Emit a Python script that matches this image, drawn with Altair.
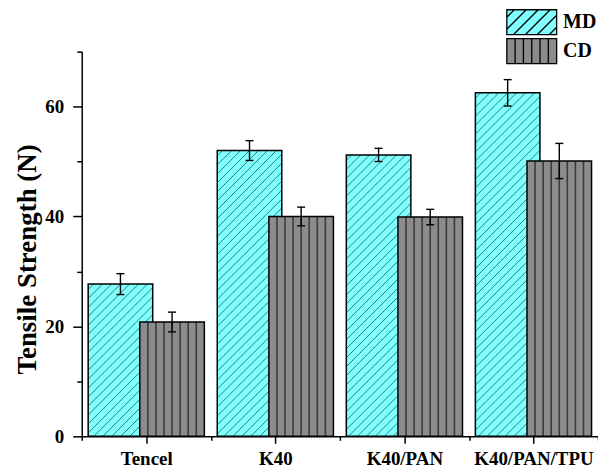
import json
import altair as alt
import pandas as pd

# Tensile strength (N) in machine direction (MD) and cross direction (CD)
categories = ["Tencel", "K40", "K40/PAN", "K40/PAN/TPU"]
series_names = ["MD", "CD"]
md_strength = [27.7, 52.0, 51.2, 62.5]
md_error = [1.9, 1.8, 1.2, 2.4]
cd_strength = [20.8, 40.0, 39.9, 50.1]
cd_error = [1.8, 1.7, 1.4, 3.2]

# plot-area size and pixel scale factors used for the hatch patterns
W, H = 518, 386
Y_MAX = 70
SX = W / 4.0
SY = H / Y_MAX
HATCH = 9.0  # horizontal spacing of diagonal hatch lines, px
N_VLINES = 8  # vertical stripes per CD bar

CYAN = "#80FFFF"
TEAL = "#2E7F7F"
GRAY = "#8C8C8C"
DARK = "#3C3C3C"
FONT = "Liberation Serif"

rows = []
for i, cat in enumerate(categories):
    rows.append(dict(category=cat, idx=i + 1, series="MD", value=md_strength[i], err=md_error[i]))
    rows.append(dict(category=cat, idx=i + 1, series="CD", value=cd_strength[i], err=cd_error[i]))
df = pd.DataFrame(rows)


# legend swatch paths: a 2:1 box (x in [-2, 2], y in [-1, 1]) with its hatching
def md_symbol():
    parts = ["M-2,-1H2V1H-2Z"]
    for c in [-2.4, -1.44, -0.48, 0.48, 1.44, 2.4]:
        xa, xb = max(-2.0, c - 1.0), min(2.0, c + 1.0)
        parts.append(f"M{xa:.3f},{c - xa:.3f}L{xb:.3f},{c - xb:.3f}")
    return "".join(parts)


def cd_symbol():
    parts = ["M-2,-1H2V1H-2Z"]
    for k in range(1, 6):
        x = -2 + k * 4 / 6.0
        parts.append(f"M{x:.3f},-1V1")
    return "".join(parts)


x_scale = alt.Scale(domain=[0.5, 4.5], nice=False, zero=False)
y_scale = alt.Scale(domain=[0, Y_MAX], nice=False)
fill_scale = alt.Scale(domain=series_names, range=[CYAN, GRAY])
shape_scale = alt.Scale(domain=series_names, range=[md_symbol(), cd_symbol()])
stroke_scale = alt.Scale(domain=series_names, range=["black", "black"])

cat_lookup = json.dumps(categories)
x_axis = alt.Axis(
    values=[0.5, 1, 1.5, 2, 2.5, 3, 3.5, 4, 4.5],
    labelExpr=f"datum.value % 1 === 0 ? {cat_lookup}[datum.value - 1] : ''",
    tickSize={"condition": {"test": "datum.value % 1 === 0", "value": 7}, "value": 4},
    labelPadding=6,
    labelFontSize=19,
    title=None,
    grid=False,
)
y_axis = alt.Axis(
    values=[0, 10, 20, 30, 40, 50, 60, 70],
    labelExpr="datum.value % 20 === 0 ? datum.label : ''",
    tickSize={"condition": {"test": "datum.value % 20 === 0", "value": 9}, "value": 5},
    labelPadding=9,
    labelFontSize=19,
    title="Tensile Strength (N)",
    titleFontSize=27,
    titleX=-54,
    titleY=208,
    titleBaseline="middle",
    grid=False,
)

base = alt.Chart(df).transform_calculate(
    xc="datum.idx + (datum.series === 'MD' ? -0.2 : 0.2)",
    x0="datum.xc - 0.25",
    x1="datum.xc + 0.25",
    lo="datum.value - datum.err",
    hi="datum.value + datum.err",
    z="0",
)
md = base.transform_filter("datum.series === 'MD'")
cd = base.transform_filter("datum.series === 'CD'")


def X(field):
    return alt.X(field, scale=x_scale, axis=x_axis)


def Y(field):
    return alt.Y(field, scale=y_scale, axis=y_axis)


legend = alt.Legend(
    title=None,
    orient="none",
    legendX=438,
    legendY=-43,
    symbolSize=625,
    symbolStrokeColor="black",
    symbolStrokeWidth=1.3,
    symbolOpacity=1,
    labelFont=FONT,
    labelFontWeight="bold",
    labelFontSize=20,
    labelColor="black",
    labelOffset=18,
    rowPadding=-4,
    padding=0,
)

# invisible points carry the legend (fill + hatched swatch shapes)
legend_layer = base.mark_point(
    filled=False, size=0, strokeWidth=1.3, opacity=1
).encode(
    x=X("xc:Q"),
    y=Y("value:Q"),
    fill=alt.Fill("series:N", scale=fill_scale, legend=legend),
    shape=alt.Shape("series:N", scale=shape_scale, legend=legend),
    stroke=alt.Stroke("series:N", scale=stroke_scale, legend=legend),
)


def bar_fill(src):
    return src.mark_bar(strokeWidth=0).encode(
        x=X("x0:Q"),
        x2="x1:Q",
        y=Y("value:Q"),
        y2="z:Q",
        fill=alt.Fill("series:N", scale=fill_scale, legend=None),
    )


def bar_outline(src):
    return src.mark_bar(fillOpacity=0, stroke="black", strokeWidth=1.5).encode(
        x=X("x0:Q"),
        x2="x1:Q",
        y=Y("value:Q"),
        y2="z:Q",
    )


# diagonal hatch inside MD bars, clipped to each bar rectangle
md_hatch = (
    md.transform_calculate(k="sequence(0, 70)")
    .transform_flatten(["k"])
    .transform_calculate(
        pw=f"0.5 * {SX}",
        ph=f"datum.value * {SY}",
        c=f"-datum.ph + (datum.k + 0.6) * {HATCH}",
        xa="max(0, datum.c)",
        xb="min(datum.pw, datum.ph + datum.c)",
    )
    .transform_filter("datum.xa < datum.xb")
    .transform_calculate(
        hx0=f"datum.x0 + datum.xa / {SX}",
        hx1=f"datum.x0 + datum.xb / {SX}",
        hy0=f"(datum.xa - datum.c) / {SY}",
        hy1=f"(datum.xb - datum.c) / {SY}",
    )
    .mark_rule(color=TEAL, strokeWidth=1)
    .encode(x=X("hx0:Q"), x2="hx1:Q", y=Y("hy0:Q"), y2="hy1:Q")
)

# vertical stripes inside CD bars
cd_lines = (
    cd.transform_calculate(k=f"sequence(1, {N_VLINES})")
    .transform_flatten(["k"])
    .transform_calculate(lx=f"datum.x0 + datum.k * 0.5 / {N_VLINES}")
    .mark_rule(color=DARK, strokeWidth=1.6)
    .encode(x=X("lx:Q"), y=Y("z:Q"), y2="value:Q")
)

err_rule = base.mark_rule(color="black", strokeWidth=1.4).encode(
    x=X("xc:Q"), y=Y("lo:Q"), y2="hi:Q"
)
err_caps = (
    base.transform_fold(["lo", "hi"], as_=["end", "ey"])
    .mark_tick(orient="horizontal", size=8, thickness=1.4, color="black", opacity=1)
    .encode(x=X("xc:Q"), y=Y("ey:Q"))
)

chart = (
    alt.layer(
        legend_layer,
        bar_fill(md),
        md_hatch,
        bar_outline(md),
        bar_fill(cd),
        cd_lines,
        bar_outline(cd),
        err_rule,
        err_caps,
    )
    .properties(
        width=W,
        height=H,
        autosize=alt.AutoSizeParams(type="none"),
        padding={"left": 82, "top": 51, "right": 0, "bottom": 32},
        background="white",
    )
    .configure_view(stroke=None)
    .configure_axis(
        domainColor="black",
        domainWidth=1.5,
        tickColor="black",
        tickWidth=1.5,
        labelFont=FONT,
        labelFontWeight="bold",
        labelColor="black",
        titleFont=FONT,
        titleFontWeight="bold",
        titleColor="black",
    )
)

chart.save("out.html", embed_options={"renderer": "svg", "actions": False})
